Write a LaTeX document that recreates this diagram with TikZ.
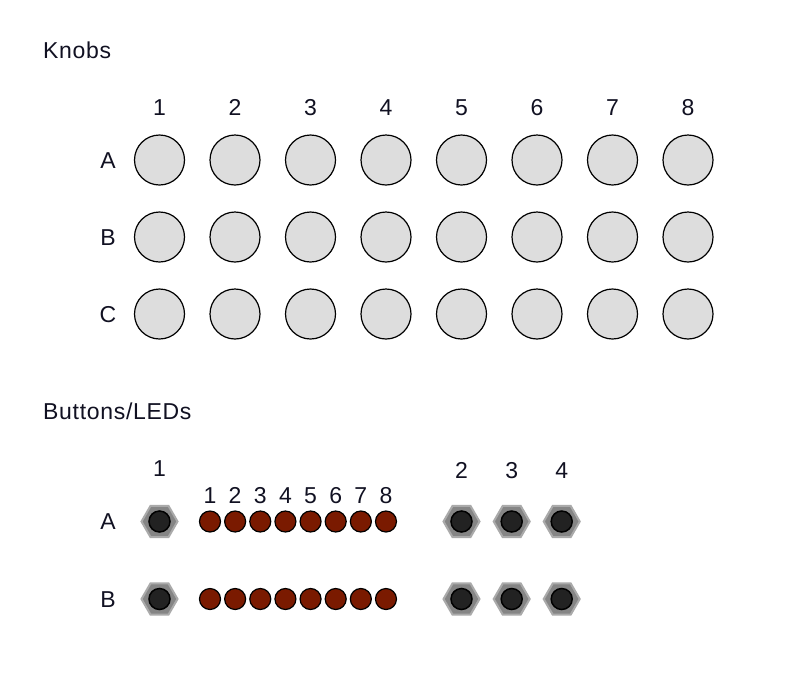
\documentclass[tikz,border=0pt]{standalone}
\usepackage{fontspec}
\setmainfont{Liberation Sans}[LetterSpace=3]
\usetikzlibrary{shapes.geometric}
\definecolor{txt}{HTML}{111122}
\definecolor{knobfill}{HTML}{DDDDDD}
\definecolor{ledfill}{HTML}{7A1A00}
\definecolor{hexfill}{HTML}{858585}
\definecolor{hexedge}{HTML}{AAAAAA}
\definecolor{capfill}{HTML}{222222}
\tikzset{
  lbl/.style={text=txt, font=\fontsize{23}{26}\selectfont, inner sep=0pt, text height=16.5pt, text depth=0pt},
  knob/.style={circle, draw=black, line width=1.2pt, fill=knobfill, minimum size=50pt, inner sep=0pt},
  led/.style={circle, draw=black, line width=1.2pt, fill=ledfill, minimum size=21pt, inner sep=0pt},
  hexbtn/.style={regular polygon, regular polygon sides=6, draw=hexedge, line width=2pt, fill=hexfill, minimum size=36pt, inner sep=0pt},
  capbtn/.style={circle, draw=black, line width=1.5pt, fill=capfill, minimum size=21pt, inner sep=0pt}
}
\begin{document}
\begin{tikzpicture}[x=1pt,y=-1pt]
\useasboundingbox[fill=white] (0,0) rectangle (794,694);
\node[lbl, anchor=west] (knobs) at (43,50) {Knobs};
\foreach \c [count=\i from 0] in {1,...,8} {
  \node[lbl] (kc\c) at ({159.5+75.5*\i},107) {\c};
}
\foreach \r/\y in {A/160,B/237,C/314} {
  \node[lbl] (kr\r) at (108,\y) {\r};
  \foreach \c [count=\i from 0] in {1,...,8} {
    \node[knob] (k\r\c) at ({159.5+75.5*\i},\y) {};
  }
}
\node[lbl, anchor=west] (buttons) at (43,411) {Buttons/LEDs};
\node[lbl] (bl1) at (159.5,468) {1};
\foreach \c [count=\i from 0] in {1,...,8} {
  \node[lbl] (ll\c) at ({210+25.14*\i},495) {\c};
}
\foreach \c/\x in {2/461.5,3/511.7,4/561.7} {
  \node[lbl] (bl\c) at (\x,470) {\c};
}
\foreach \r/\y in {A/521.5,B/599} {
  \node[lbl] (br\r) at (108,\y) {\r};
  \foreach \c/\x in {1/159.5,2/461.5,3/511.7,4/561.7} {
    \node[hexbtn] (h\r\c) at (\x,\y) {};
    \node[capbtn] (b\r\c) at (\x,\y) {};
  }
  \foreach \c [count=\i from 0] in {1,...,8} {
    \node[led] (l\r\c) at ({210+25.14*\i},\y) {};
  }
}
\end{tikzpicture}
\end{document}
